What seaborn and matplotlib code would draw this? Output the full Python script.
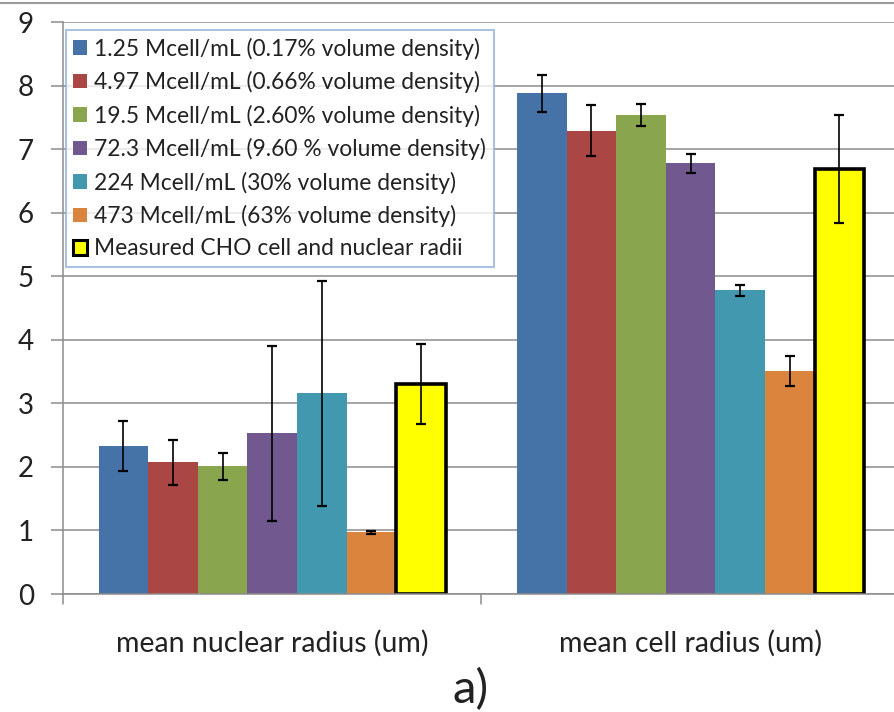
import matplotlib
matplotlib.use("Agg")
import matplotlib.pyplot as plt
import matplotlib.patches as mpatches
import matplotlib.lines as mlines
import numpy as np
import pandas as pd
import seaborn as sns

categories = ["mean nuclear radius (um)", "mean cell radius (um)"]
series = [
    "1.25 Mcell/mL (0.17% volume density)",
    "4.97 Mcell/mL (0.66% volume density)",
    "19.5 Mcell/mL (2.60% volume density)",
    "72.3 Mcell/mL (9.60 % volume density)",
    "224 Mcell/mL (30% volume density)",
    "473 Mcell/mL (63% volume density)",
    "Measured CHO cell and nuclear radii",
]
nuclear_mean = [2.33, 2.07, 2.01, 2.53, 3.16, 0.97, 3.30]
nuclear_err = [0.39, 0.35, 0.21, 1.38, 1.77, 0.02, 0.63]
cell_mean = [7.88, 7.29, 7.54, 6.78, 4.78, 3.51, 6.69]
cell_err = [0.29, 0.40, 0.17, 0.15, 0.09, 0.23, 0.85]
colors = ["#4572A7", "#AA4643", "#89A54E", "#71588F", "#4198AF", "#DB843D", "#FFFF00"]
y_ticks = [0, 1, 2, 3, 4, 5, 6, 7, 8, 9]

df = pd.DataFrame({
    "category": [categories[0]] * len(series) + [categories[1]] * len(series),
    "series": series * 2,
    "value": nuclear_mean + cell_mean,
    "err": nuclear_err + cell_err,
})

sns.set_theme(style="white")
plt.rcParams["font.family"] = ["Lato", "DejaVu Sans"]

fig = plt.figure(figsize=(8.94, 7.12), dpi=100)
ax = fig.add_axes([0.0705, 0.1657, 0.9295, 0.8033])

sns.barplot(data=df, x="category", y="value", hue="series", hue_order=series,
            order=categories, palette=colors, width=0.83, saturation=1,
            errorbar=None, legend=False, ax=ax)

# error bars at bar centres, yellow bar gets a heavy black outline
n = len(series)
for i, s in enumerate(series):
    cont = ax.containers[i]
    for j, bar in enumerate(cont):
        bar.set_linewidth(0)
        if i == n - 1:
            bar.set_edgecolor("black")
            bar.set_linewidth(2.6)
            bar.set_joinstyle("miter")
        row = df[(df["series"] == s) & (df["category"] == categories[j])].iloc[0]
        xc = bar.get_x() + bar.get_width() / 2
        ax.errorbar(xc, row["value"], yerr=row["err"], fmt="none", ecolor="black",
                    elinewidth=1.2, capsize=3.5, capthick=1.6, zorder=5)

ax.set_ylim(0, 9)
ax.set_xlim(-0.5, 1.486)
ax.set_yticks(y_ticks)
ax.set_yticklabels([str(t) for t in y_ticks], fontsize=20, color="#222222")
ax.yaxis.grid(True, color="#8C8C8C", linewidth=1.1)
ax.set_axisbelow(True)
ax.set_xlabel("")
ax.set_ylabel("")

# category labels sit well below the axis
ax.set_xticks([0, 1])
ax.set_xticklabels(categories, fontsize=20.5, color="#222222")
ax.tick_params(axis="x", length=0, pad=26)
for x in [-0.5, 0.5]:
    ax.plot([x, x], [0, -0.16], color="#8C8C8C", lw=1.1, clip_on=False,
            transform=ax.transData)
ax.tick_params(axis="y", which="major", left=True, length=9, width=1.1,
               color="#8C8C8C", pad=12)

for side in ["top", "right"]:
    ax.spines[side].set_visible(False)
for side in ["left", "bottom"]:
    ax.spines[side].set_color("#8C8C8C")
    ax.spines[side].set_linewidth(1.1)

handles = []
for i, s in enumerate(series):
    if i == n - 1:
        handles.append(mpatches.Patch(facecolor=colors[i], edgecolor="black",
                                      linewidth=2.2, label=s))
    else:
        handles.append(mpatches.Patch(facecolor=colors[i], edgecolor="none", label=s))
leg = ax.legend(handles=handles, loc="upper left", bbox_to_anchor=(0.003, 0.987),
                fontsize=16.4, frameon=True, fancybox=False, shadow=False,
                handlelength=0.6, handleheight=0.6, handletextpad=0.3,
                labelspacing=0.5, borderpad=0.35, borderaxespad=0)
leg.get_frame().set_edgecolor("#95B3D7")
leg.get_frame().set_linewidth(1.5)
for t in leg.get_texts():
    t.set_color("#222222")

fig.text(0.5 + 0.026, 0.032, "a)", fontsize=34, ha="center", va="center",
         color="#222222")
fig.add_artist(mlines.Line2D([0, 1], [0.996, 0.996], color="#9A9A9A", lw=1.5))

fig.savefig("out.png", dpi=100)
